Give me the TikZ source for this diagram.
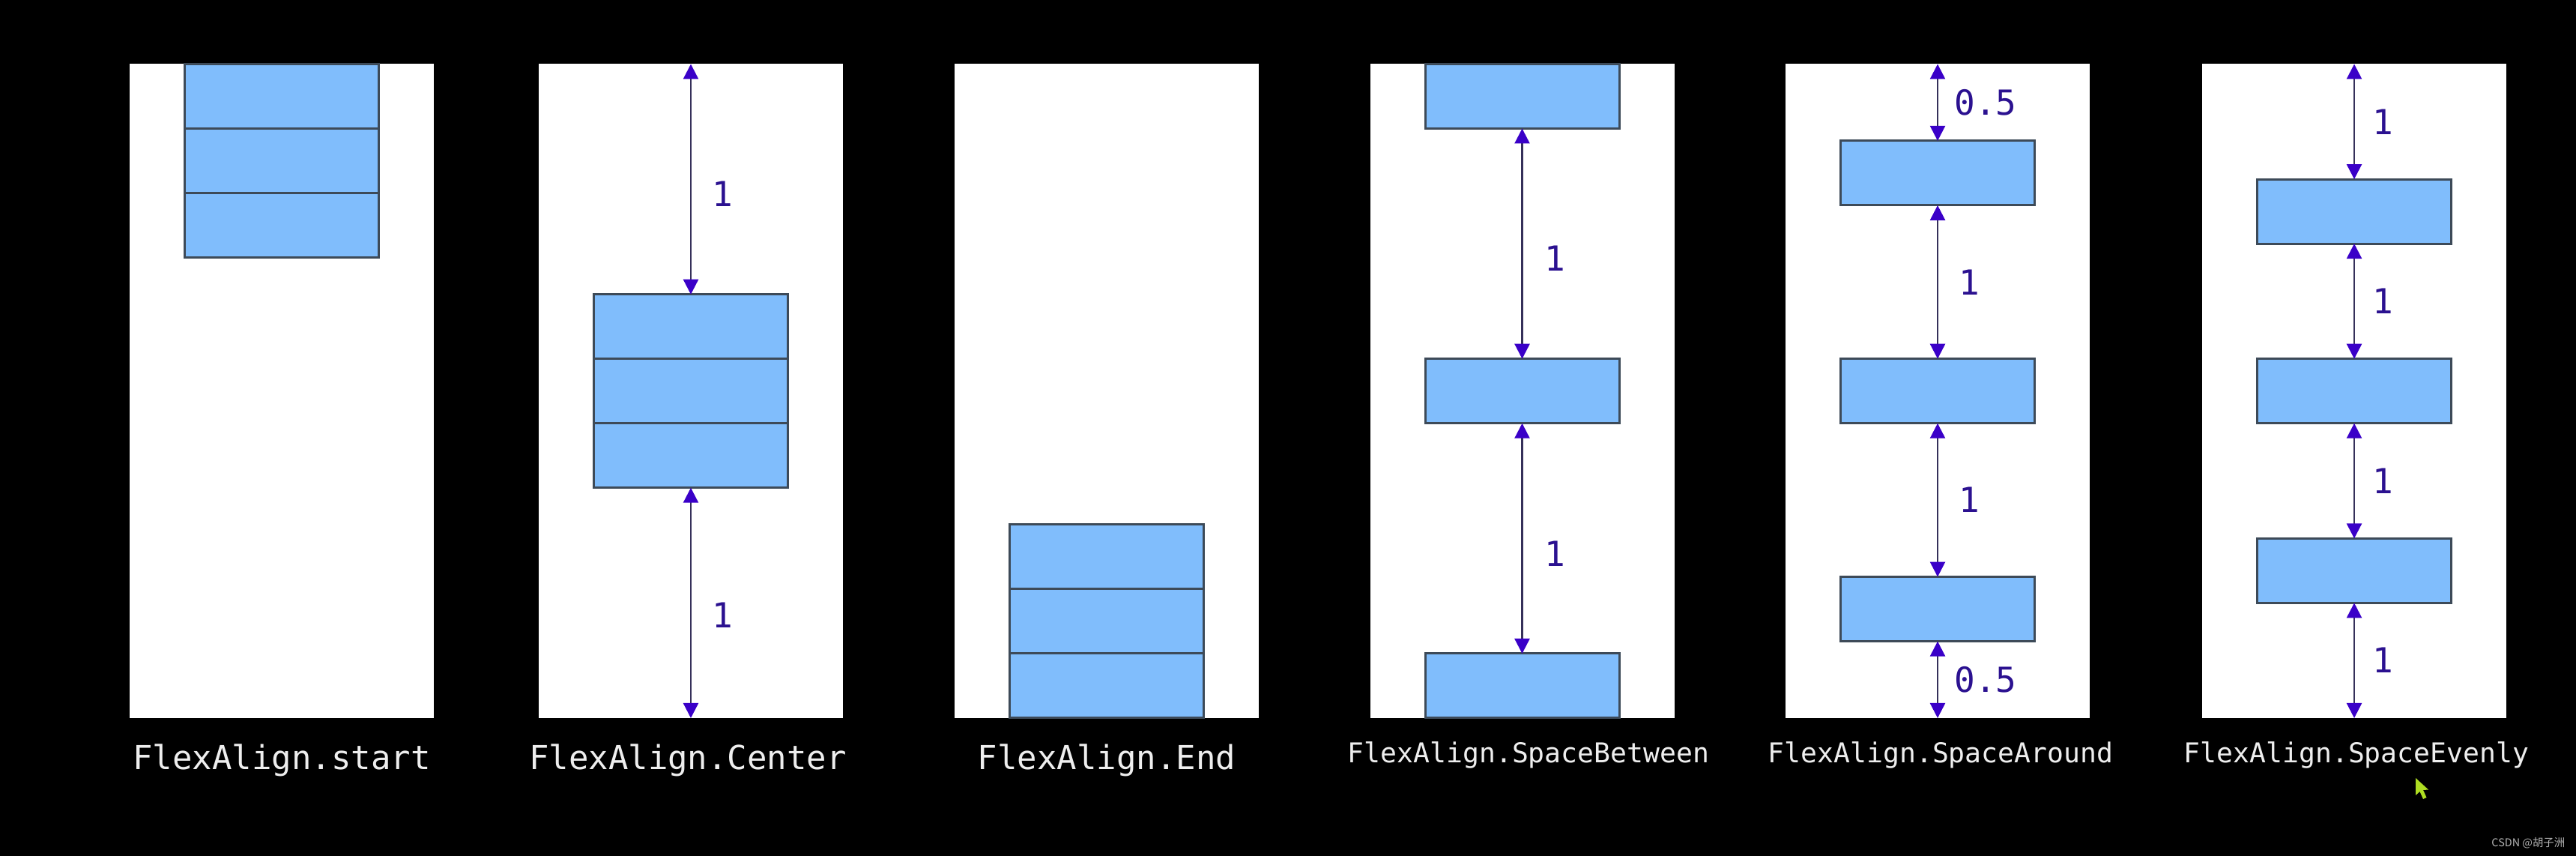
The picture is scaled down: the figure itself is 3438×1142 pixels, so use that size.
\documentclass[tikz,border=0pt]{standalone}
\usepackage{fontspec}
\newfontfamily\monof{DejaVu Sans Mono}
\newfontfamily\cjkf{Noto Sans CJK SC}
\usetikzlibrary{arrows.meta}
\definecolor{panelw}{HTML}{FFFFFF}
\definecolor{blockfill}{HTML}{80BDFC}
\definecolor{blockline}{HTML}{3D4A58}
\definecolor{dimline}{HTML}{35305A}
\definecolor{dimhead}{HTML}{3A00C8}
\definecolor{numcol}{HTML}{2B1190}
\definecolor{capwhite}{HTML}{EEEEEE}
\definecolor{cursorcol}{HTML}{AEDD22}
\definecolor{wmark}{HTML}{B4B4B4}
\begin{document}
\begin{tikzpicture}[x=0.25pt,y=-0.25pt,
  panel/.style={fill=panelw, draw=none, inner sep=0pt, outer sep=0pt,
    minimum width=101.5pt, minimum height=218.125pt},
  block/.style={fill=blockfill, draw=blockline, line width=0.75pt, inner sep=0pt, outer sep=0pt,
    minimum width=64.75pt, minimum height=21.5pt},
  dim/.style={draw=dimline, line width=0.6pt,
    {Triangle[width=5pt,length=5pt,color=dimhead]}-{Triangle[width=5pt,length=5pt,color=dimhead]}},
  num/.style={text=numcol, font=\monof\fontsize{11.5}{13}\selectfont, inner sep=0pt},
  captxt/.style={anchor=base, text=capwhite, font=\monof\fontsize{11}{13}\selectfont, inner sep=0pt},
  captxtsm/.style={captxt, font=\monof\fontsize{9.1}{11}\selectfont}]
\path[use as bounding box, fill=black] (0,0) rectangle (3438,1142);

% panels
\node[panel] (p1) at (376,521.75) {};
\node[panel] (p2) at (922,521.75) {};
\node[panel] (p3) at (1477,521.75) {};
\node[panel] (p4) at (2031.5,521.75) {};
\node[panel] (p5) at (2586,521.75) {};
\node[panel] (p6) at (3142,521.75) {};

% FlexAlign.start
\node[block] (b11) at (376,128.5) {};
\node[block] (b12) at (376,214.5) {};
\node[block] (b13) at (376,300.5) {};

% FlexAlign.Center
\node[block] (b21) at (922,435.75) {};
\node[block] (b22) at (922,521.75) {};
\node[block] (b23) at (922,607.75) {};
\draw[dim] (p2.north) -- node[num, xshift=10.5pt, yshift=-5pt] {1} (b21.north);
\draw[dim] (b23.south) -- node[num, xshift=10.5pt, yshift=-4pt] {1} (p2.south);

% FlexAlign.End
\node[block] (b31) at (1477,743) {};
\node[block] (b32) at (1477,829) {};
\node[block] (b33) at (1477,915) {};

% FlexAlign.SpaceBetween
\node[block] (b41) at (2031.5,128.5) {};
\node[block] (b42) at (2031.5,521.75) {};
\node[block] (b43) at (2031.5,915) {};
\draw[dim] (b41.south) -- node[num, xshift=11pt, yshift=-5pt] {1} (b42.north);
\draw[dim] (b42.south) -- node[num, xshift=11pt, yshift=-5pt] {1} (b43.north);

% FlexAlign.SpaceAround
\node[block] (b51) at (2586,230.9) {};
\node[block] (b52) at (2586,521.75) {};
\node[block] (b53) at (2586,812.6) {};
\draw[dim] (p5.north) -- node[num, xshift=16pt] {0.5} (b51.north);
\draw[dim] (b51.south) -- node[num, xshift=10.5pt] {1} (b52.north);
\draw[dim] (b52.south) -- node[num, xshift=10.5pt] {1} (b53.north);
\draw[dim] (b53.south) -- node[num, xshift=16pt] {0.5} (p5.south);

% FlexAlign.SpaceEvenly
\node[block] (b61) at (3142,282.1) {};
\node[block] (b62) at (3142,521.75) {};
\node[block] (b63) at (3142,761.4) {};
\draw[dim] (p6.north) -- node[num, xshift=9.5pt] {1} (b61.north);
\draw[dim] (b61.south) -- node[num, xshift=9.5pt] {1} (b62.north);
\draw[dim] (b62.south) -- node[num, xshift=9.5pt] {1} (b63.north);
\draw[dim] (b63.south) -- node[num, xshift=9.5pt] {1} (p6.south);

% captions
\node[captxt] (c1) at (376,1027) {FlexAlign.start};
\node[captxt] (c2) at (918,1027) {FlexAlign.Center};
\node[captxt] (c3) at (1477,1027) {FlexAlign.End};
\node[captxtsm] (c4) at (2040,1018) {FlexAlign.SpaceBetween};
\node[captxtsm] (c5) at (2590,1018) {FlexAlign.SpaceAround};
\node[captxtsm] (c6) at (3145,1018) {FlexAlign.SpaceEvenly};

% mouse cursor
\fill[cursorcol] (3224,1038) -- (3224,1061) -- (3229.5,1056) -- (3234,1066) -- (3238.5,1064) -- (3234,1054) -- (3241,1053.5) -- cycle;

% watermark
\node[text=wmark, font=\cjkf\fontsize{3.6}{4}\selectfont, inner sep=0pt, anchor=east] (wm) at (3424,1125) {CSDN @胡子洲};
\end{tikzpicture}
\end{document}
